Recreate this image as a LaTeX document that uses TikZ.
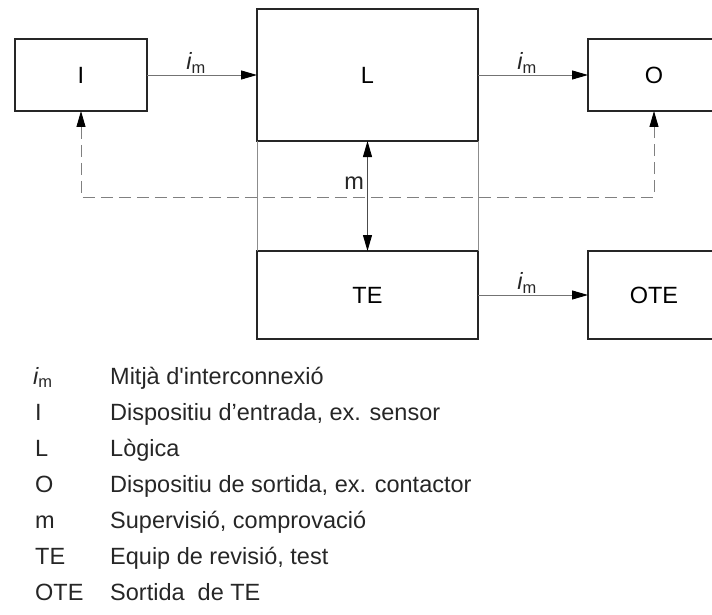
\documentclass[tikz,border=0pt]{standalone}
\usepackage{fontspec}
\setmainfont{Liberation Sans}
\usetikzlibrary{arrows.meta, positioning}

\begin{document}
\begin{tikzpicture}[
    node distance=110pt,
    unit/.style={rectangle, draw=black!85, line width=1.5pt, inner sep=0pt, outer sep=0pt, font=\fontsize{23.5}{27}\selectfont},
    smallunit/.style={unit, minimum width=132pt, minimum height=72pt},
    bigunit/.style={unit, minimum width=221pt, minimum height=132pt},
    lowunit/.style={unit, minimum height=88pt},
    link/.style={-{Triangle[length=16pt, width=9pt, color=black]}, black!55, line width=0.9pt},
    monitor/.style={{Triangle[length=16pt, width=9pt, color=black]}-{Triangle[length=16pt, width=9pt, color=black]}, black!70, line width=0.9pt},
    feedback/.style={{Triangle[length=16pt, width=9pt, color=black]}-{Triangle[length=16pt, width=9pt, color=black]}, black!50, line width=0.9pt, dash pattern=on 12pt off 6pt},
    guide/.style={black!45, line width=0.8pt},
    imlabel/.style={text=black!85, font=\fontsize{23.5}{27}\selectfont, inner sep=1pt, xshift=-6pt},
    keysym/.style={anchor=base west, inner sep=0pt, text=black!85, font=\fontsize{23.5}{27}\selectfont},
    keytext/.style={anchor=base west, inner sep=0pt, text=black!85, font=\fontsize{23.5}{27}\selectfont}
]
\useasboundingbox (0,0) rectangle (712pt,-615pt);

% Blocks
\node[smallunit] (in) at (81pt,-75pt) {I};
\node[bigunit, right=of in] (logic) {L};
\node[smallunit, right=of logic] (out) {O};
\node[bigunit, lowunit, below=of logic] (test) {TE};
\node[smallunit, lowunit, right=of test] (testout) {OTE};

% Interconnections
\draw[link] (in) -- (logic) node[midway, above, imlabel] {\itshape i\textsubscript{\upshape m}};
\draw[link] (logic) -- (out) node[midway, above, imlabel] {\itshape i\textsubscript{\upshape m}};
\draw[link] (test) -- (testout) node[midway, above, imlabel] {\itshape i\textsubscript{\upshape m}};

% Guide lines between L and TE
\draw[guide] (logic.south west) -- (test.north west);
\draw[guide] (logic.south east) -- (test.north east);

% Supervision
\draw[monitor] (logic) -- (test) node[pos=0.38, left, inner sep=3pt, text=black!85, font=\fontsize{23.5}{27}\selectfont] {m};

% Feedback (dashed)
\draw[feedback] (in.south) -- ++(0,-86pt) -| (out.south);

% Legend
\node[keysym] (k1) at (33pt,-384pt) {\itshape i\textsubscript{\upshape m}};
\node[keytext] (d1) at (110pt,-384pt) {Mitjà d\textquotesingle interconnexió};
\node[keysym] (k2) at (35pt,-420pt) {I};
\node[keytext] (d2) at (110pt,-420pt) {Dispositiu d'entrada, ex. sensor};
\node[keysym] (k3) at (35pt,-456pt) {L};
\node[keytext] (d3) at (110pt,-456pt) {Lògica};
\node[keysym] (k4) at (35pt,-492pt) {O};
\node[keytext] (d4) at (110pt,-492pt) {Dispositiu de sortida, ex. contactor};
\node[keysym] (k5) at (35pt,-528pt) {m};
\node[keytext] (d5) at (110pt,-528pt) {Supervisió, comprovació};
\node[keysym] (k6) at (35pt,-564pt) {TE};
\node[keytext] (d6) at (110pt,-564pt) {Equip de revisió, test};
\node[keysym] (k7) at (35pt,-600pt) {OTE};
\node[keytext] (d7) at (110pt,-600pt) {Sortida\ \ de TE};

\end{tikzpicture}
\end{document}
